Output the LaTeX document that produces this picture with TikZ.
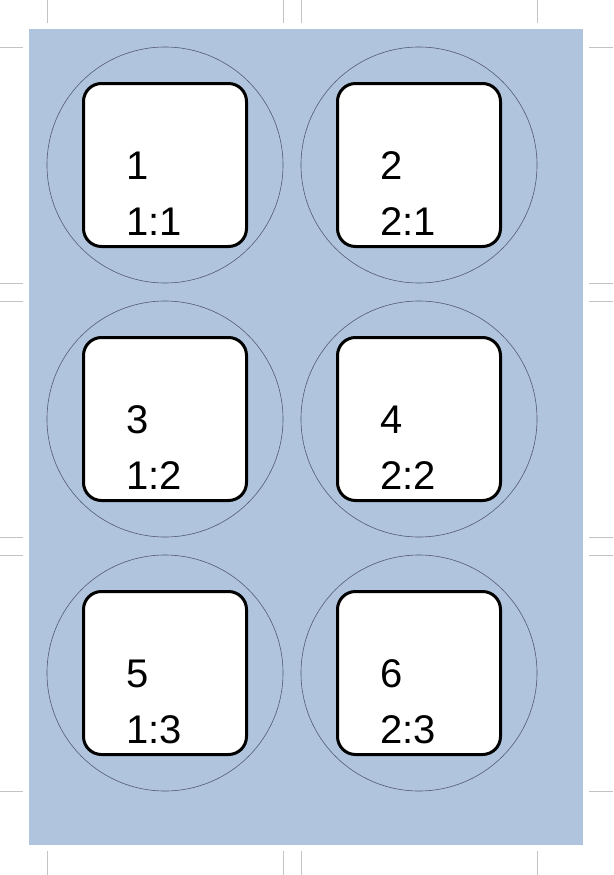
\documentclass[tikz,border=0pt]{standalone}
\usepackage{fontspec}
\setmainfont{Liberation Sans}
\usepackage{tikz}

\definecolor{fond}{RGB}{176,196,222}
\definecolor{trait}{RGB}{85,90,112}
\definecolor{repere}{RGB}{195,195,195}

\tikzset{
  etiquette/.style={draw, line width=3pt, fill=white, rounded corners=18pt, minimum size=163pt, inner sep=0pt},
  texte/.style={anchor=base west, inner sep=0pt, font=\fontsize{40}{48}\selectfont}
}

\begin{document}
\begin{tikzpicture}[x=1pt,y=-1pt]
	\useasboundingbox (0,0) rectangle (613,875);
	\fill [fond] (29,29) rectangle (583,845);
	% traits de coupe
	\foreach \x in {47,283,301,537} {
		\draw [repere] (\x,0) -- (\x,23);
		\draw [repere] (\x,851) -- (\x,875);
	}
	\foreach \y in {47,283,301,537,555,791} {
		\draw [repere] (0,\y) -- (23,\y);
		\draw [repere] (589,\y) -- (613,\y);
	}
	% une étiquette par case
	\foreach \col/\cx in {1/165,2/419} {
		\foreach \row/\cy in {1/165,2/419,3/673} {
			\pgfmathtruncatemacro{\num}{2*(\row-1)+\col}
			\draw [trait, line width=0.6pt] (\cx,\cy) circle (118);
			\node [etiquette] (case\num) at (\cx,\cy) {};
			\node [texte] (num\num) at (\cx-39,\cy+14) {\num};
			\node [texte] (pos\num) at (\cx-39,\cy+70) {\col:\row};
		}
	}
\end{tikzpicture}
\end{document}
